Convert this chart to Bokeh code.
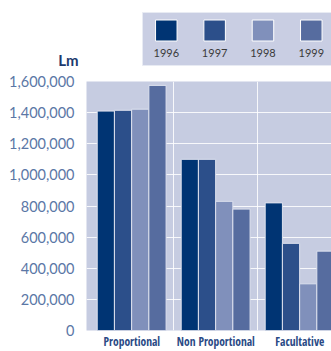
from bokeh.plotting import figure
from bokeh.models import (ColumnDataSource, Range1d, NumeralTickFormatter, SingleIntervalTicker,
                          FixedTicker)
from bokeh.layouts import column
from bokeh.embed import file_html
from bokeh.resources import INLINE
from bokeh.core.properties import value

# ---- data ----
categories = ["Proportional", "Non Proportional", "Facultative"]
years = ["1996", "1997", "1998", "1999"]
v1996 = [1410000, 1100000, 820000]
v1997 = [1415000, 1100000, 560000]
v1998 = [1422000, 830000, 300000]
v1999 = [1575000, 780000, 510000]
series = [v1996, v1997, v1998, v1999]
colors = ["#003473", "#2c4f8a", "#8090bb", "#566c9f"]
y_unit = "Lm"

# ---- style ----
FONT = "Lato"
CAT_FONT = "Liberation Sans Narrow, Open Sans Condensed, Lato"
PANEL = "#c6cce1"
TICK_COLOR = "#5b77a6"
NAVY = "#1d3a6e"
CAT_COLOR = "#2a4a85"
BAR_W = 0.205
BAR_START = 0.19
W = 331
LEFT = 86
TOP_H = 71

# ---- legend figure (top) ----
leg = figure(width=W, height=TOP_H, x_range=Range1d(0, W - LEFT), y_range=Range1d(TOP_H, 0),
             output_backend="svg", toolbar_location=None, x_axis_location=None,
             min_border_left=LEFT, min_border_right=0, min_border_top=0, min_border_bottom=0)
leg.grid.visible = False
leg.outline_line_color = None
leg.background_fill_color = "white"
leg.border_fill_color = "white"
leg.yaxis.ticker = FixedTicker(ticks=[59.5])
leg.yaxis.major_label_overrides = {59.5: y_unit}
leg.yaxis.axis_line_color = None
leg.yaxis.major_tick_line_color = None
leg.yaxis.minor_tick_line_color = None
leg.yaxis.major_tick_out = 0
leg.yaxis.major_label_standoff = 8
leg.yaxis.major_label_text_font = FONT
leg.yaxis.major_label_text_font_size = "15px"
leg.yaxis.major_label_text_font_style = "bold"
leg.yaxis.major_label_text_color = NAVY

leg.quad(left=56, right=W, top=12, bottom=65, fill_color="#c9cee3",
         line_color="#e8ebf3", line_width=1)
sw_x = [79.8 + 48.33 * i for i in range(len(years))]
leg_src = ColumnDataSource(dict(x=sw_x, year=years, color=colors))
leg.rect(x="x", y=30, width=21.5, height=21, fill_color="color", line_color="white",
         line_width=1, source=leg_src)
leg.text(x="x", y=52, text="year", source=leg_src, text_align="center", text_baseline="middle",
         text_font=value(FONT), text_font_size="11px", text_color="#3a3a3a")

# ---- main chart ----
p = figure(width=W, height=280, x_range=Range1d(-0.04, 2.877), y_range=Range1d(0, 1600000),
           output_backend="svg", toolbar_location=None,
           min_border_left=LEFT, min_border_right=0, min_border_top=10, min_border_bottom=18)
p.outline_line_color = None
p.background_fill_color = PANEL
p.border_fill_color = "white"

for j, (vals, col) in enumerate(zip(series, colors)):
    src = ColumnDataSource(dict(x=[i + BAR_START + BAR_W * j for i in range(len(categories))],
                                top=vals))
    p.vbar(x="x", top="top", width=BAR_W, bottom=0, fill_color=col,
           line_color="#dde1ee", line_width=1, source=src)

cat_ticks = [i + 0.5 for i in range(len(categories))]
p.xaxis.ticker = FixedTicker(ticks=cat_ticks)
p.xaxis.major_label_overrides = dict(zip(cat_ticks, categories))
p.xaxis.axis_line_color = None
p.xaxis.major_tick_line_color = None
p.xaxis.minor_tick_line_color = None
p.xaxis.major_tick_out = 0
p.xaxis.major_label_standoff = 3
p.xaxis.major_label_text_font = CAT_FONT
p.xaxis.major_label_text_font_size = "11.5px"
p.xaxis.major_label_text_color = CAT_COLOR
p.xgrid.ticker = FixedTicker(ticks=[1, 2])
p.xgrid.grid_line_color = "white"
p.xgrid.grid_line_alpha = 0.85

ticker = SingleIntervalTicker(interval=200000)
p.yaxis.ticker = ticker
p.yaxis.formatter = NumeralTickFormatter(format="0,0")
p.yaxis.axis_line_color = None
p.yaxis.major_tick_line_color = None
p.yaxis.minor_tick_line_color = None
p.yaxis.major_tick_out = 0
p.yaxis.major_label_standoff = 8
p.yaxis.major_label_text_font = FONT
p.yaxis.major_label_text_font_size = "14.5px"
p.yaxis.major_label_text_color = TICK_COLOR
p.ygrid.ticker = ticker
p.ygrid.grid_line_color = "white"
p.ygrid.grid_line_alpha = 0.85

layout = column(leg, p, spacing=0)
open("out.html", "w").write(file_html(layout, INLINE))
